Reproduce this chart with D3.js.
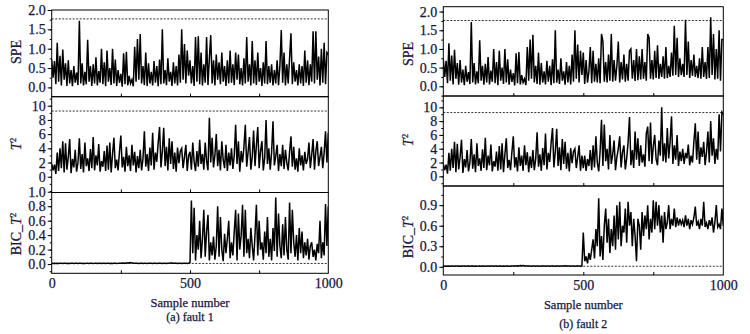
<!DOCTYPE html>
<html>
  <head>
    <meta charset="UTF-8">
    <title>SPE / T2 / BIC_T2 monitoring charts</title>
    <script src="https://d3js.org/d3.v7.min.js"></script>
    <style>
      body { margin: 0; background: #fff; }
      svg text { font-family: "Liberation Serif", "Times New Roman", serif; fill: #161640; stroke: #161640; stroke-width: 0.25px; }
    </style>
  </head>
  <body>
    <div id="graph"></div>
    <script>

// sample numbers, one value every 5 samples
const samples = d3.range(0, 1001, 5);

// samples 0..495 (before the fault, same in both runs)
const normalSPE = [
  0.72, 0.25, 0.68, 0.08, 1.15, 0.15, 0.82, 0.05, 0.98, 0.2,
  0.62, 0.04, 0.7, 0.1, 0.45, 0.03, 0.55, 0.12, 0.38, 0.06,
  1.72, 0.1, 0.62, 0.05, 0.4, 0.08, 1.23, 0.15, 0.55, 0.04,
  0.6, 0.1, 0.78, 0.05, 0.42, 0.12, 1.0, 0.08, 0.65, 0.03,
  0.95, 0.15, 0.5, 0.06, 1.0, 0.1, 0.72, 0.04, 0.45, 0.12,
  0.35, 0.02, 0.88, 0.08, 0.92, 0.05, 0.3, 0.1, 0.2, 0.03,
  1.05, 0.15, 1.25, 0.2, 1.38, 0.1, 0.55, 0.06, 0.9, 0.04,
  0.62, 0.1, 0.4, 0.05, 0.68, 0.12, 0.55, 0.03, 0.72, 0.08,
  1.5, 0.1, 0.45, 0.06, 0.75, 0.15, 0.4, 0.04, 0.65, 0.1,
  0.55, 0.05, 0.85, 0.12, 1.5, 0.2, 1.12, 0.1, 0.95, 0.3
];
const normalT2 = [
  1.8, 0.9, 1.7, 0.4, 3.4, 0.8, 4.0, 1.2, 5.0, 0.6,
  4.7, 1.0, 2.8, 5.3, 0.5, 2.5, 1.3, 3.8, 0.7, 2.0,
  5.4, 1.1, 3.2, 0.6, 4.8, 1.5, 2.6, 0.8, 3.9, 1.2,
  5.6, 0.9, 3.0, 1.6, 4.6, 0.7, 2.2, 1.4, 3.6, 0.8,
  4.4, 1.0, 4.8, 0.6, 3.2, 5.5, 1.2, 2.4, 0.9, 3.5,
  5.8, 1.3, 2.8, 0.7, 4.2, 1.5, 3.0, 0.8, 4.5, 1.6,
  3.5, 0.6, 2.9, 1.2, 3.8, 0.9, 2.5, 6.4, 1.4, 3.2,
  0.8, 4.1, 1.6, 6.2, 1.0, 3.4, 2.1, 4.8, 7.0, 1.3,
  3.6, 6.9, 1.5, 4.2, 0.9, 5.4, 1.8, 5.0, 1.1, 3.4,
  0.7, 4.1, 1.9, 3.6, 4.0, 1.2, 2.8, 4.5, 0.8, 3.0
];
const normalBIC = [
  0.01, 0.008, 0.012, 0.009, 0.011, 0.008, 0.01, 0.012, 0.009, 0.01,
  0.011, 0.008, 0.01, 0.009, 0.012, 0.01, 0.008, 0.011, 0.01, 0.009,
  0.012, 0.01, 0.008, 0.011, 0.009, 0.01, 0.012, 0.008, 0.01, 0.011,
  0.009, 0.01, 0.012, 0.008, 0.011, 0.01, 0.009, 0.012, 0.01, 0.008,
  0.011, 0.01, 0.009, 0.012, 0.008, 0.01, 0.011, 0.009, 0.01, 0.012,
  0.01, 0.013, 0.011, 0.015, 0.012, 0.018, 0.014, 0.02, 0.016, 0.013,
  0.011, 0.01, 0.012, 0.009, 0.011, 0.01, 0.008, 0.012, 0.01, 0.009,
  0.011, 0.01, 0.012, 0.008, 0.01, 0.011, 0.009, 0.012, 0.01, 0.011,
  0.009, 0.012, 0.01, 0.008, 0.011, 0.01, 0.013, 0.015, 0.012, 0.01,
  0.011, 0.009, 0.012, 0.01, 0.008, 0.011, 0.01, 0.012, 0.009, 0.01
];

// samples 500..1000, fault 1
const fault1SPE = [
  0.7, 0.1, 0.55, 0.04, 1.3, 0.15, 1.32, 0.08, 0.9, 0.05,
  0.6, 0.12, 1.3, 0.06, 0.75, 1.35, 0.1, 0.7, 0.05, 0.85,
  0.2, 0.65, 0.08, 0.9, 0.15, 0.55, 0.04, 0.7, 0.1, 0.95,
  0.12, 0.6, 0.06, 0.9, 0.2, 0.85, 0.08, 0.5, 0.05, 0.75,
  0.1, 1.3, 0.15, 0.6, 0.05, 1.2, 0.1, 0.7, 0.06, 0.9,
  0.15, 0.5, 0.04, 0.65, 0.1, 1.2, 0.08, 0.55, 0.12, 0.6,
  0.05, 0.45, 0.1, 0.7, 0.06, 0.55, 1.48, 0.12, 0.9, 0.05,
  0.6, 0.1, 0.75, 1.4, 0.08, 0.65, 0.15, 0.45, 0.05, 0.6,
  0.1, 0.55, 0.04, 0.95, 0.12, 0.7, 0.06, 0.6, 0.15, 1.45,
  0.1, 1.45, 0.2, 0.8, 0.05, 1.0, 0.12, 1.15, 0.08, 0.9,
  0.85
];
const fault1T2 = [
  3.5, 1.0, 4.8, 2.1, 0.8, 3.6, 1.4, 5.2, 1.8, 3.2,
  1.0, 4.8, 2.2, 0.9, 8.3, 2.0, 5.5, 1.3, 3.0, 6.0,
  1.5, 3.8, 0.9, 5.0, 2.4, 1.2, 4.5, 0.8, 3.4, 1.6,
  4.0, 1.1, 3.0, 7.3, 1.8, 5.0, 0.7, 3.6, 2.0, 4.2,
  7.3, 1.4, 3.5, 5.6, 1.0, 2.8, 6.5, 1.5, 4.4, 7.0,
  1.2, 3.6, 5.0, 0.9, 2.6, 8.0, 1.8, 4.0, 1.0, 3.4,
  7.8, 1.6, 2.9, 4.5, 0.8, 3.2, 1.5, 4.5, 1.1, 3.8,
  2.0, 0.9, 3.5, 5.7, 1.4, 4.2, 1.0, 2.6, 0.7, 4.0,
  1.6, 3.0, 0.9, 3.5, 1.8, 2.5, 4.8, 1.2, 3.1, 5.3,
  1.0, 3.6, 5.0, 1.5, 2.8, 4.2, 1.2, 3.4, 6.4, 2.0,
  6.2
];
const fault1BIC = [
  0.02, 0.88, 0.15, 0.78, 0.05, 0.4, 0.2, 0.6, 0.08, 0.35,
  0.75, 0.1, 0.45, 0.68, 0.05, 0.3, 0.12, 0.38, 0.06, 0.25,
  0.8, 0.1, 0.65, 0.2, 0.04, 0.42, 0.15, 0.35, 0.6, 0.08,
  0.3, 0.12, 0.45, 0.75, 0.05, 0.7, 0.2, 0.4, 0.82, 0.1,
  0.75, 0.15, 0.35, 0.08, 0.5, 0.25, 0.05, 0.4, 0.82, 0.12,
  0.6, 0.2, 0.3, 0.06, 0.45, 0.15, 0.65, 0.1, 0.35, 0.05,
  0.5, 0.18, 0.92, 0.1, 0.7, 0.25, 0.08, 0.55, 0.12, 0.65,
  0.2, 0.06, 0.85, 0.15, 0.75, 0.3, 0.1, 0.4, 0.05, 0.5,
  0.15, 0.45, 0.08, 0.3, 0.12, 0.35, 0.06, 0.25, 0.3, 0.1,
  0.2, 0.05, 0.28, 0.15, 0.6, 0.08, 0.3, 0.12, 0.83, 0.25,
  0.8
];

// samples 500..1000, fault 2
const fault2SPE = [
  0.9, 0.06, 0.7, 0.1, 0.4, 1.05, 0.08, 0.95, 0.12, 0.6,
  0.1, 0.75, 0.08, 1.4, 1.2, 0.12, 0.65, 0.1, 0.85, 0.15,
  1.4, 0.12, 0.7, 0.15, 0.55, 1.2, 0.1, 0.65, 0.18, 0.85,
  0.12, 0.6, 0.15, 0.95, 1.0, 0.2, 0.7, 0.14, 1.0, 0.16,
  0.8, 0.18, 1.0, 0.2, 0.65, 0.15, 1.4, 1.3, 0.2, 0.7,
  0.18, 0.95, 0.22, 1.1, 0.2, 0.6, 0.25, 0.8, 0.2, 1.05,
  0.22, 0.55, 0.25, 0.9, 0.28, 1.62, 0.3, 1.3, 0.25, 0.75,
  0.3, 0.6, 0.25, 1.78, 0.3, 1.2, 0.22, 0.7, 0.28, 0.85,
  0.25, 0.55, 0.22, 0.75, 0.2, 1.05, 0.25, 0.65, 0.2, 1.05,
  0.22, 1.85, 0.3, 1.4, 0.18, 1.0, 0.2, 1.5, 0.15, 1.25,
  1.25
];
const fault2T2 = [
  1.2, 3.0, 0.8, 2.5, 1.5, 3.8, 0.9, 4.5, 1.3, 5.8,
  2.0, 0.7, 3.6, 8.2, 1.5, 7.5, 2.2, 4.0, 1.0, 6.0,
  1.8, 3.2, 5.2, 0.9, 2.8, 4.0, 5.8, 1.3, 3.5, 4.5,
  1.0, 2.6, 5.0, 8.6, 1.6, 3.8, 1.2, 6.5, 2.4, 5.5,
  1.5, 4.5, 2.0, 3.2, 1.4, 6.2, 7.2, 2.2, 7.8, 1.8,
  4.4, 6.0, 2.5, 1.6, 5.2, 3.0, 10.0, 2.2, 4.8, 2.0,
  7.0, 2.6, 5.0, 8.7, 1.8, 4.5, 2.4, 6.0, 1.5, 3.6,
  2.2, 4.0, 1.8, 3.4, 2.6, 4.6, 1.6, 3.0, 2.0, 5.0,
  7.7, 2.4, 6.5, 1.8, 4.2, 2.8, 5.0, 1.6, 3.5, 6.5,
  2.0, 8.0, 3.0, 5.5, 1.8, 4.0, 2.4, 9.0, 3.6, 9.3,
  9.0
];
const fault2BIC = [
  0.5, 0.08, 0.15, 0.05, 0.2, 0.1, 0.25, 0.4, 0.12, 0.55,
  0.3, 1.0, 0.15, 0.45, 0.1, 0.6, 0.85, 0.35, 0.7, 0.2,
  0.55, 0.3, 0.75, 0.25, 0.9, 0.4, 0.95, 0.3, 0.6, 0.5,
  0.85, 0.35, 0.95, 0.6, 0.8, 0.3, 0.7, 0.45, 0.08, 0.7,
  0.6, 0.25, 0.8, 0.45, 0.75, 0.55, 0.9, 0.4, 0.7, 0.5,
  0.97, 0.55, 0.95, 0.6, 0.9, 0.5, 0.75, 0.35, 0.8, 0.55,
  0.65, 0.9, 0.55, 0.7, 0.6, 0.85, 0.58, 0.72, 0.6, 0.7,
  0.62, 0.68, 0.58, 0.75, 0.6, 0.7, 0.55, 0.68, 0.62, 0.72,
  0.88, 0.6, 0.66, 0.55, 0.7, 0.6, 0.95, 0.58, 0.64, 0.55,
  0.68, 0.6, 0.72, 0.5, 0.65, 0.9, 0.58, 0.62, 0.55, 0.85,
  0.6
];

// control limits
const limitsFault1 = [1.77, 9.25, 0.008];
const limitsFault2 = [1.76, 9.24, 0.008];

// tick labels
const xTickLabels = [0, 500, 1000];
const xInnerTicks = [250, 500, 750];
const speTicks = [0, 0.5, 1.0, 1.5, 2.0];
const t2Ticks = [0, 2, 4, 6, 8, 10];
const bicTicks1 = [0, 0.2, 0.4, 0.6, 0.8, 1.0];
const bicTicks2 = [0, 0.3, 0.6, 0.9];
const captions = ["(a) fault 1", "(b) fault 2"];


const svgWidth = 750;
const svgHeight = 334;
const serif = "'Liberation Serif', 'Times New Roman', serif";

const svg = d3.select("#graph")
  .append("svg")
  .attr("width", svgWidth)
  .attr("height", svgHeight);

// layout of the two figures (pixels)
const panels = [
  {
    x0: 51.7, x1: 328.3, titleX: 16.5, xLabelY: 290, nameY: 307, capY: 321,
    caption: captions[0],
    plots: [
      {name: "SPE", top: 10, bottom: 96.7, domain: [-0.24, 2.0], ticks: speTicks, minor: 0.25, fmt: ".1f",
        limit: limitsFault1[0], values: normalSPE.concat(fault1SPE), titleY: 52},
      {name: "T2", top: 96.7, bottom: 192.5, domain: [-2.22, 11.27], ticks: t2Ticks, minor: 1, fmt: "d",
        limit: limitsFault1[1], values: normalT2.concat(fault1T2), titleY: 144},
      {name: "BIC", top: 192.5, bottom: 273.3, domain: [-0.128, 0.99], ticks: bicTicks1, minor: 0.1, fmt: ".1f",
        limit: limitsFault1[2], values: normalBIC.concat(fault1BIC), titleY: 234}
    ]
  },
  {
    x0: 443.3, x1: 723.3, titleX: 408, xLabelY: 292, nameY: 309, capY: 328,
    caption: captions[1],
    plots: [
      {name: "SPE", top: 6.7, bottom: 96, domain: [-0.26, 2.13], ticks: speTicks, minor: 0.25, fmt: ".1f",
        limit: limitsFault2[0], values: normalSPE.concat(fault2SPE), titleY: 54},
      {name: "T2", top: 96, bottom: 186, domain: [-1.4, 11.64], ticks: t2Ticks, minor: 1, fmt: "d",
        limit: limitsFault2[1], values: normalT2.concat(fault2T2), titleY: 140},
      {name: "BIC", top: 186, bottom: 275, domain: [-0.12, 1.18], ticks: bicTicks2, minor: 0.15, fmt: ".1f",
        limit: limitsFault2[2], values: normalBIC.concat(fault2BIC), titleY: 237}
    ]
  }
];

function yTitle(g, name, x, y) {
  const t = g.append("text")
    .attr("transform", "translate(" + x + "," + y + ") rotate(-90)")
    .attr("text-anchor", "middle")
    .attr("dy", "0.35em")
    .style("font-family", serif)
    .style("font-size", "14px");
  if (name === "SPE") {
    t.text("SPE");
    return;
  }
  if (name === "BIC") t.append("tspan").text("BIC_");
  t.append("tspan").style("font-style", "italic").text("T");
  t.append("tspan").attr("baseline-shift", "super").style("font-size", "9px").text("2");
}

panels.forEach((p, pi) => {
  const x = d3.scaleLinear().domain([0, 1000]).range([p.x0, p.x1]);
  const g = svg.append("g");

  p.plots.forEach((s, si) => {
    const y = d3.scaleLinear().domain(s.domain).range([s.bottom, s.top]);
    const clipId = "clip" + pi + "_" + si;

    svg.append("clipPath").attr("id", clipId)
      .append("rect")
      .attr("x", p.x0).attr("y", s.top)
      .attr("width", p.x1 - p.x0).attr("height", s.bottom - s.top);

    // series
    const line = d3.line()
      .x((d, i) => x(samples[i]))
      .y(d => y(d));

    g.append("path")
      .datum(s.values)
      .attr("clip-path", "url(#" + clipId + ")")
      .attr("fill", "none")
      .attr("stroke", "#000")
      .attr("stroke-width", 1.5)
      .attr("stroke-linejoin", "miter")
      .attr("d", line);

    // control limit
    g.append("line")
      .attr("x1", p.x0).attr("x2", p.x1)
      .attr("y1", y(s.limit)).attr("y2", y(s.limit))
      .attr("stroke", "#000")
      .attr("stroke-width", 0.8)
      .attr("stroke-dasharray", "2,1.5");

    // minor y ticks
    const minorVals = d3.range(Math.ceil(s.domain[0] / s.minor) * s.minor, s.domain[1] + 1e-9, s.minor);
    g.append("g")
      .attr("transform", "translate(" + p.x0 + ",0)")
      .call(d3.axisLeft(y).tickValues(minorVals).tickSize(2).tickFormat(""))
      .call(a => a.select(".domain").remove());

    // major y ticks
    g.append("g")
      .attr("transform", "translate(" + p.x0 + ",0)")
      .call(d3.axisLeft(y).tickValues(s.ticks).tickSize(4).tickPadding(2).tickFormat(d3.format(s.fmt)))
      .call(a => a.select(".domain").remove())
      .call(a => a.selectAll("text")
        .style("font-family", serif)
        .style("font-size", "14px")
        .attr("fill", "#161640"));

    // inner x ticks on the bottom edge
    g.append("g")
      .attr("transform", "translate(0," + s.bottom + ")")
      .call(d3.axisBottom(x).tickValues(xInnerTicks).tickSize(-3).tickFormat(""))
      .call(a => a.select(".domain").remove());

    // frame
    g.append("rect")
      .attr("x", p.x0).attr("y", s.top)
      .attr("width", p.x1 - p.x0).attr("height", s.bottom - s.top)
      .attr("fill", "none")
      .attr("stroke", "#000")
      .attr("stroke-width", 1);

    yTitle(g, s.name, p.titleX, s.titleY);
  });

  // bottom tick labels
  g.append("g")
    .attr("transform", "translate(0," + (p.xLabelY - 12) + ")")
    .call(d3.axisBottom(x).tickValues(xTickLabels).tickSize(0).tickPadding(0).tickFormat(d3.format("d")))
    .call(a => a.select(".domain").remove())
    .call(a => a.selectAll("text")
      .style("font-family", serif)
      .style("font-size", "14px")
      .attr("fill", "#161640"));

  g.append("text")
    .attr("x", x(500)).attr("y", p.nameY)
    .attr("text-anchor", "middle")
    .style("font-family", serif)
    .style("font-size", "12.5px")
    .text("Sample number");

  g.append("text")
    .attr("x", x(500)).attr("y", p.capY)
    .attr("text-anchor", "middle")
    .style("font-family", serif)
    .style("font-size", "12px")
    .text(p.caption);
});

    </script>
  </body>
</html>
